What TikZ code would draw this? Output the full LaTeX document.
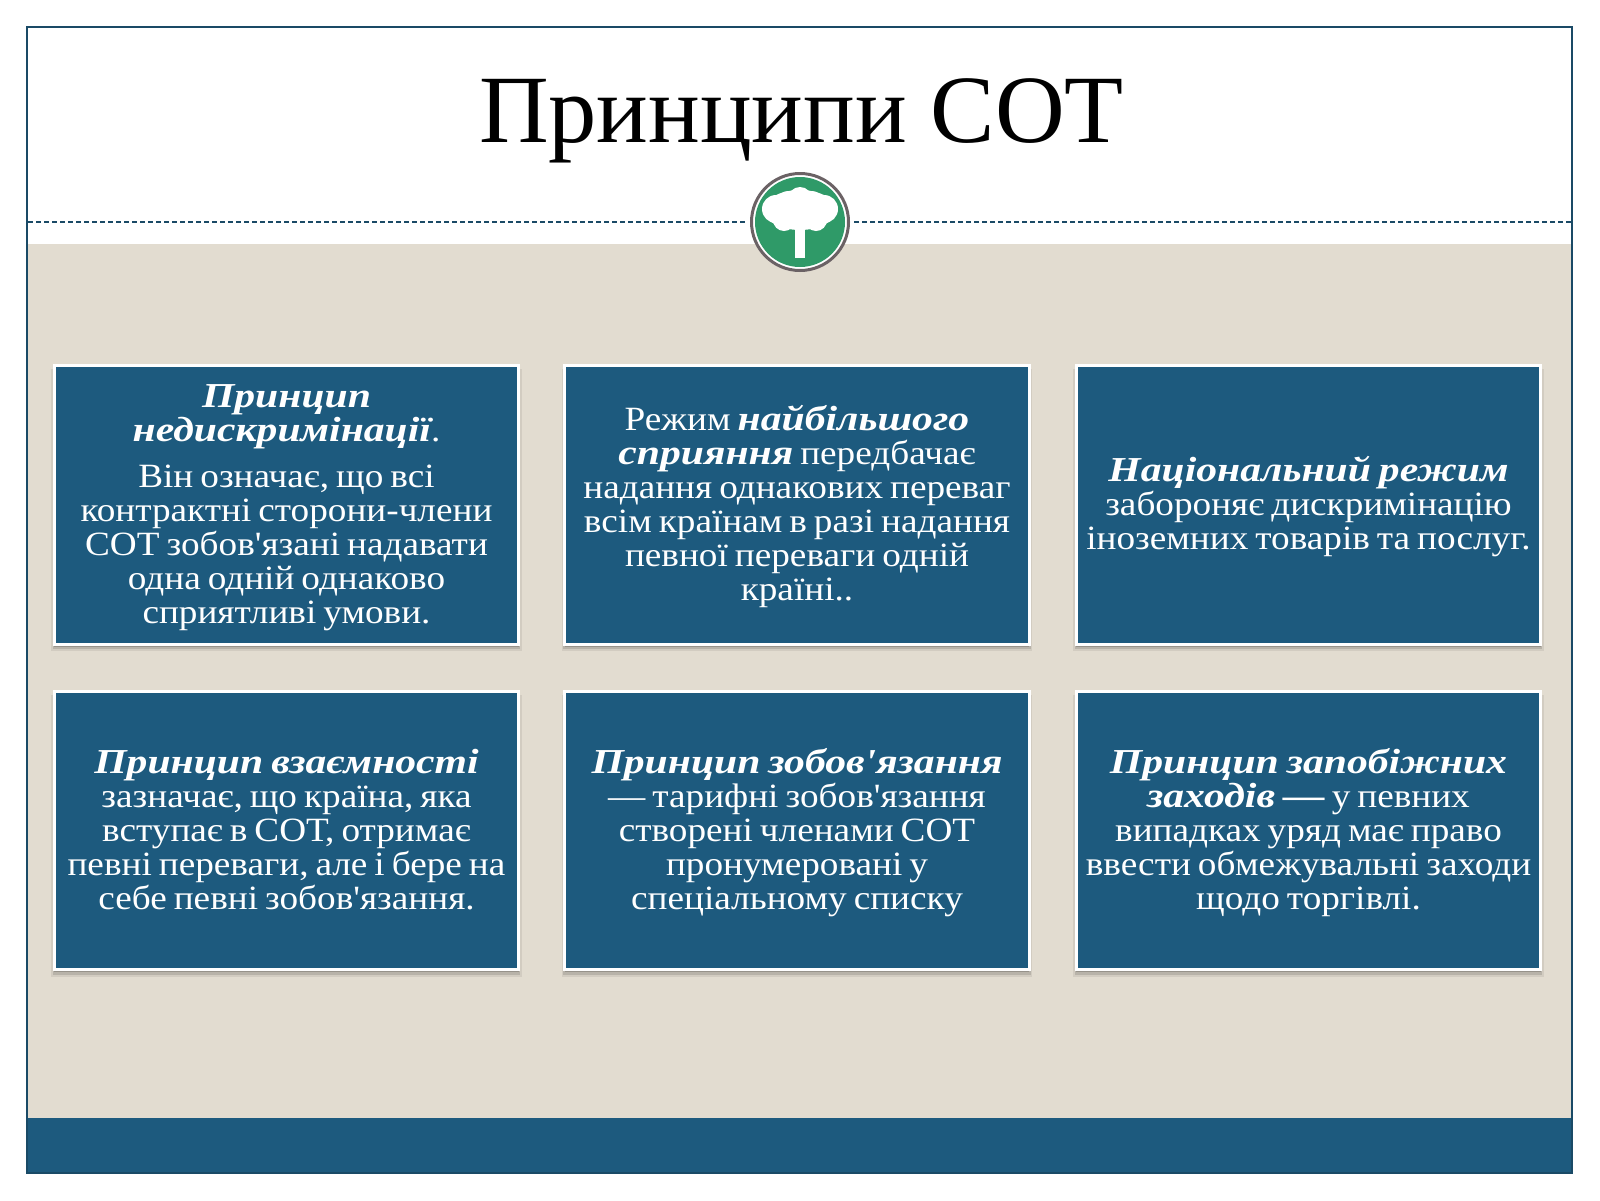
\documentclass[tikz,border=0pt]{standalone}
\usepackage{fontspec}
\setmainfont{Liberation Serif}
\newfontfamily\bodyf[FakeStretch=1.095]{Liberation Serif}
\newfontfamily\bif[FakeStretch=1.19]{Liberation Serif}
\usetikzlibrary{shadows}
\definecolor{wtoblue}{HTML}{1D5A7E}
\definecolor{wtobeige}{HTML}{E2DCD0}
\definecolor{wtoframe}{HTML}{1A4A66}
\definecolor{wtogreen}{HTML}{2F9A68}
\definecolor{wtoring}{HTML}{6B6265}
\newcommand{\bi}[1]{{\bif\fontsize{35}{34}\selectfont\bfseries\itshape\spaceskip=8pt\relax #1}}
\tikzset{
  card/.style={rectangle, draw=white, line width=3pt, fill=wtoblue, text=white,
    minimum width=464.5pt, minimum height=278.5pt, inner sep=0pt, align=center, text width=455pt,
    font=\bodyf\fontsize{34}{34}\selectfont,
    execute at begin node={\spaceskip=7pt\relax\rule{0pt}{31pt}},
    execute at end node={\rule[-10pt]{0pt}{10pt}},
    general shadow={fill=black, opacity=.07, shadow yshift=-5pt, shadow xshift=0pt, shadow scale=1.012},
    general shadow={fill=black, opacity=.12, shadow yshift=-4pt, shadow xshift=0pt, shadow scale=1.006},
    general shadow={fill=black, opacity=.18, shadow yshift=-2.5pt, shadow xshift=0pt}},
  ttl/.style={font=\fontsize{96.5}{97}\selectfont, text=black, inner sep=0pt},
  emblem/.style={circle, draw=wtoring, fill=white, line width=3pt, minimum size=97pt, inner sep=0pt},
  dash line/.style={draw=wtoframe, line width=1.3pt, dash pattern=on 5pt off 3pt},
}
\begin{document}
\begin{tikzpicture}[x=1pt,y=-1pt]
\useasboundingbox (0,0) rectangle (1600,1200);
\fill[white] (0,0) rectangle (1600,1200);
\fill[wtobeige] (27,244) rectangle (1572,1118);
\fill[wtoblue] (27,1118) rectangle (1572,1173);
\draw[wtoframe, line width=2pt] (27,27) rectangle (1572,1173);
\node[ttl] (title) at (801.5,121) {Принципи СОТ};
\coordinate (dl) at (28,222);
\coordinate (dr) at (1571,222);
\node[emblem] (emblem) at (800,222) {};
\fill[wtogreen] (emblem.center) circle (45);
\begin{scope}[shift={(emblem.center)}]
  \fill[white] (-5,0) rectangle (5,36);
  \fill[white] (0,-12) ellipse (36 and 20);
  \fill[white] (-24,-13) circle (14);
  \fill[white] (24,-13) circle (14);
  \fill[white] (0,-23) circle (12);
  \fill[white] (-12,-20) circle (11);
  \fill[white] (12,-20) circle (11);
  \fill[white] (-16,-2) circle (11);
  \fill[white] (16,-2) circle (11);
  \fill[white] (0,0) circle (9);
\end{scope}
\draw[dash line, shorten >=5pt] (dl) -- (emblem.west);
\draw[dash line, shorten >=3pt] (dr) -- (emblem.east);
\node[card] (c1) at (286.5,505) {\bi{Принцип}\\ \bi{недискримінації}.\\[12pt] Він означає, що всі\\ контрактні сторони-члени\\ СОТ зобов'язані надавати\\ одна одній однаково\\ сприятливі умови.};
\node[card] (c2) at (797,505) {Режим \bi{найбільшого}\\ \bi{сприяння} передбачає\\ надання однакових переваг\\ всім країнам в разі надання\\ певної переваги одній\\ країні..};
\node[card] (c3) at (1308.5,505) {\bi{Національний режим}\\ забороняє дискримінацію\\ іноземних товарів та послуг.};
\node[card] (c4) at (286.5,830.5) {\bi{Принцип взаємності}\\ зазначає, що країна, яка\\ вступає в СОТ, отримає\\ певні переваги, але і бере на\\ себе певні зобов'язання.};
\node[card] (c5) at (797,830.5) {\bi{Принцип зобов'язання}\\ — тарифні зобов'язання\\ створені членами СОТ\\ пронумеровані у\\ спеціальному списку};
\node[card] (c6) at (1308.5,830.5) {\bi{Принцип запобіжних}\\ \bi{заходів —} у певних\\ випадках уряд має право\\ ввести обмежувальні заходи\\ щодо торгівлі.};
\end{tikzpicture}
\end{document}
